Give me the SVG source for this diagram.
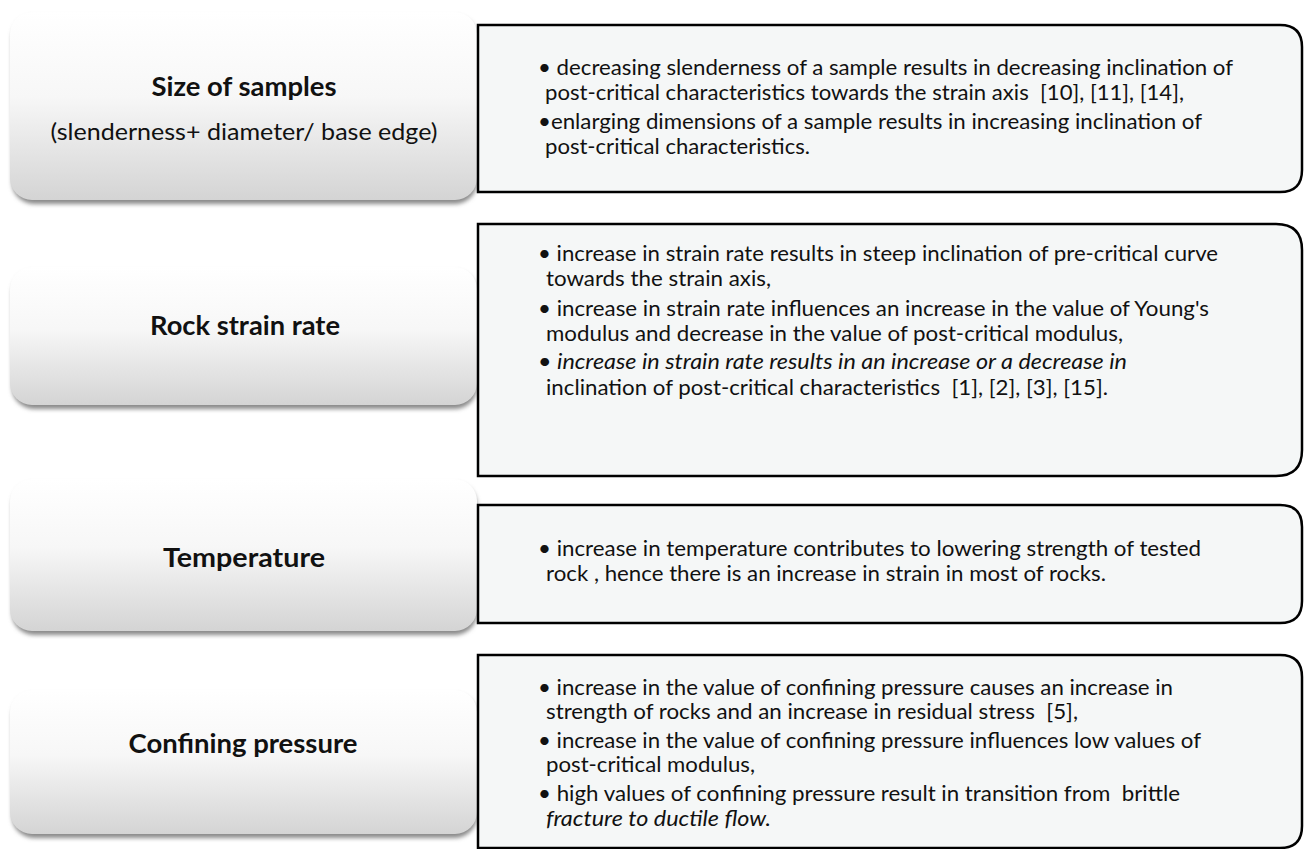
<svg xmlns="http://www.w3.org/2000/svg" width="1304" height="849" viewBox="0 0 1304 849">
<style>
.lbl{font-family:Lato,"Liberation Sans",sans-serif;font-size:26px;font-weight:bold;fill:#111;text-anchor:middle}
.sub{font-family:Lato,"Liberation Sans",sans-serif;font-size:24px;fill:#111;text-anchor:middle}
.t{font-family:Lato,"Liberation Sans",sans-serif;font-size:21px;fill:#111;white-space:pre}
.it{font-style:italic}
.lb{fill:url(#g)}
.sh{fill:#8a8a8a;filter:url(#blur)}
.rb{fill:#f5f7f7;stroke:#000;stroke-width:2.5}
</style>
<defs>
<linearGradient id="g" x1="0" y1="0" x2="0" y2="1">
<stop offset="0" stop-color="#ffffff"/>
<stop offset="0.45" stop-color="#f7f7f7"/>
<stop offset="1" stop-color="#d4d4d4"/>
</linearGradient>
<filter id="blur" x="-5%" y="-10%" width="110%" height="125%"><feGaussianBlur stdDeviation="2"/></filter>
</defs>
<rect width="1304" height="849" fill="#fff"/>

<g id="n1">
<rect class="sh" x="12" y="16" width="465" height="188" rx="22"/>
<rect class="lb" x="10" y="12" width="467" height="188" rx="22"/>
<text class="lbl" x="244" y="96" textLength="185" lengthAdjust="spacingAndGlyphs">Size of samples</text>
<text class="sub" x="244" y="140" textLength="387" lengthAdjust="spacingAndGlyphs">(slenderness+ diameter/ base edge)</text>
</g>
<g id="n2">
<rect class="sh" x="12" y="271" width="465" height="138" rx="22"/>
<rect class="lb" x="10" y="267" width="467" height="138" rx="22"/>
<text class="lbl" x="245" y="335" textLength="190" lengthAdjust="spacingAndGlyphs">Rock strain rate</text>
</g>
<g id="n3">
<rect class="sh" x="12" y="483" width="465" height="152" rx="22"/>
<rect class="lb" x="10" y="479" width="467" height="152" rx="22"/>
<text class="lbl" x="244" y="567" textLength="162" lengthAdjust="spacingAndGlyphs">Temperature</text>
</g>
<g id="n4">
<rect class="sh" x="12" y="694" width="465" height="144" rx="22"/>
<rect class="lb" x="10" y="690" width="467" height="144" rx="22"/>
<text class="lbl" x="243" y="753" textLength="229" lengthAdjust="spacingAndGlyphs">Confining pressure</text>
</g>

<g id="d1">
<path class="rb" d="M478,25 H1280 Q1302,25 1302,47 V170 Q1302,192 1280,192 H478 Z"/>
<text class="t" x="538" y="75" textLength="695" lengthAdjust="spacingAndGlyphs">• decreasing slenderness of a sample results in decreasing inclination of</text>
<text class="t" x="545" y="100" textLength="639" lengthAdjust="spacingAndGlyphs">post-critical characteristics towards the strain axis  [10], [11], [14],</text>
<text class="t" x="538" y="129" textLength="664" lengthAdjust="spacingAndGlyphs">•enlarging dimensions of a sample results in increasing inclination of</text>
<text class="t" x="545" y="154" textLength="265" lengthAdjust="spacingAndGlyphs">post-critical characteristics.</text>
</g>
<g id="d2">
<path class="rb" d="M478,224 H1276 Q1302,224 1302,250 V450 Q1302,476 1276,476 H478 Z"/>
<text class="t" x="538" y="261" textLength="680" lengthAdjust="spacingAndGlyphs">• increase in strain rate results in steep inclination of pre-critical curve</text>
<text class="t" x="546" y="286" textLength="225" lengthAdjust="spacingAndGlyphs">towards the strain axis,</text>
<text class="t" x="538" y="316" textLength="671" lengthAdjust="spacingAndGlyphs">• increase in strain rate influences an increase in the value of Young's</text>
<text class="t" x="546" y="341" textLength="577" lengthAdjust="spacingAndGlyphs">modulus and decrease in the value of post-critical modulus,</text>
<text class="t it" x="538" y="369" textLength="589" lengthAdjust="spacingAndGlyphs">• increase in strain rate results in an increase or a decrease in</text>
<text class="t" x="546" y="395" textLength="562" lengthAdjust="spacingAndGlyphs">inclination of post-critical characteristics  [1], [2], [3], [15].</text>
</g>
<g id="d3">
<path class="rb" d="M478,505 H1280 Q1302,505 1302,527 V601 Q1302,623 1280,623 H478 Z"/>
<text class="t" x="538" y="556" textLength="663" lengthAdjust="spacingAndGlyphs">• increase in temperature contributes to lowering strength of tested</text>
<text class="t" x="546" y="581" textLength="560" lengthAdjust="spacingAndGlyphs">rock , hence there is an increase in strain in most of rocks.</text>
</g>
<g id="d4">
<path class="rb" d="M478,655 H1280 Q1302,655 1302,677 V826 Q1302,848 1280,848 H478 Z"/>
<text class="t" x="538" y="695" textLength="635" lengthAdjust="spacingAndGlyphs">• increase in the value of confining pressure causes an increase in</text>
<text class="t" x="546" y="719" textLength="532" lengthAdjust="spacingAndGlyphs">strength of rocks and an increase in residual stress  [5],</text>
<text class="t" x="538" y="748" textLength="663" lengthAdjust="spacingAndGlyphs">• increase in the value of confining pressure influences low values of</text>
<text class="t" x="546" y="772" textLength="209" lengthAdjust="spacingAndGlyphs">post-critical modulus,</text>
<text class="t" x="538" y="801" textLength="642" lengthAdjust="spacingAndGlyphs">• high values of confining pressure result in transition from  brittle</text>
<text class="t it" x="546" y="826" textLength="225" lengthAdjust="spacingAndGlyphs">fracture to ductile flow.</text>
</g>
<g id="connectors"/>
</svg>
